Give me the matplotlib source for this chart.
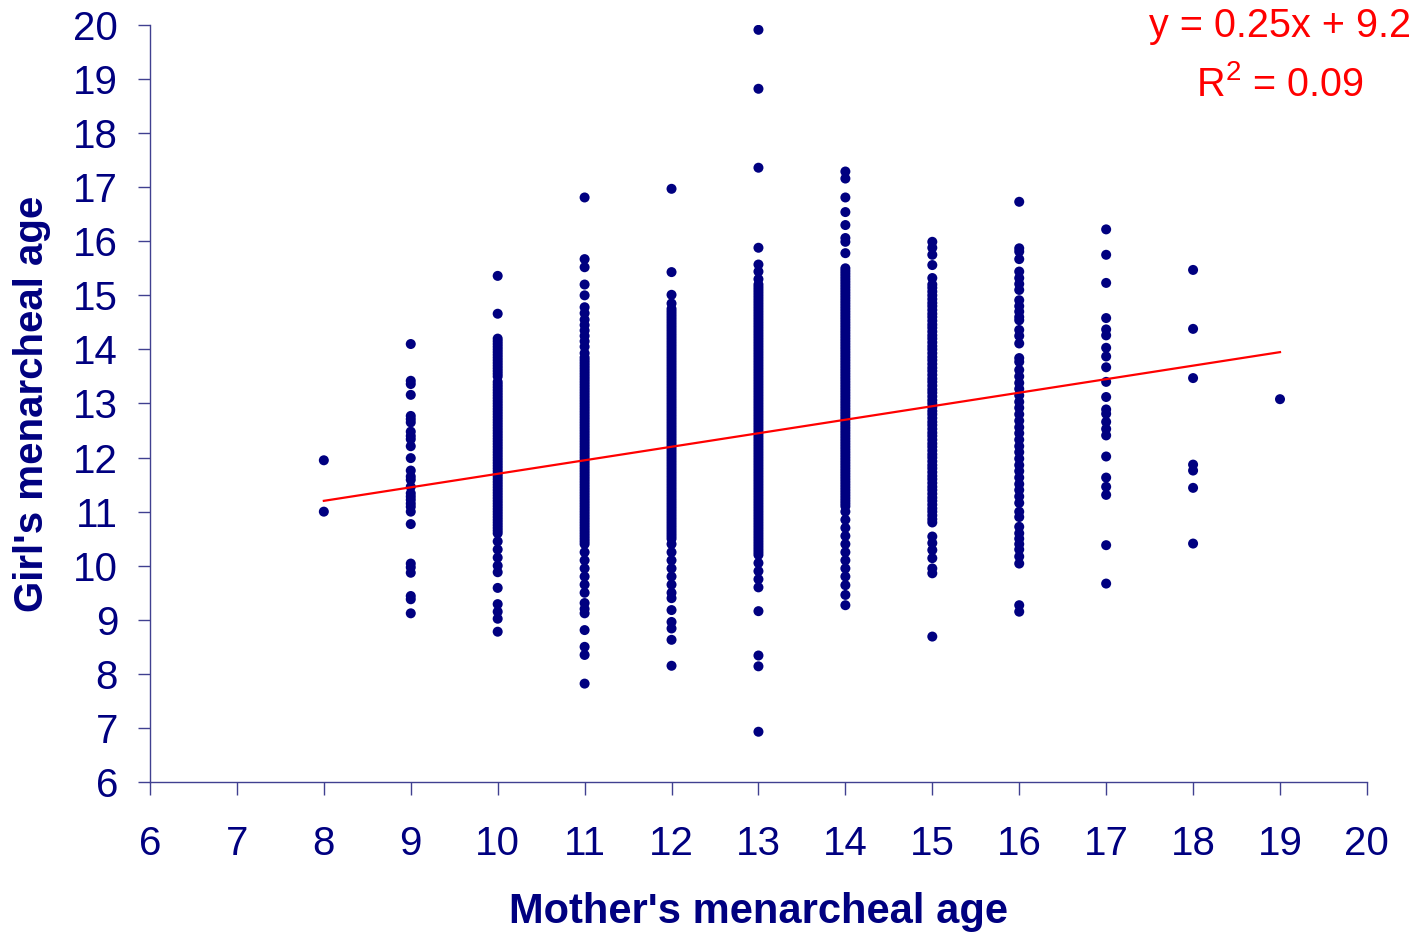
import matplotlib
matplotlib.use("Agg")
import matplotlib.pyplot as plt
import numpy as np

plt.rcParams['font.family'] = ['Liberation Sans', 'DejaVu Sans']
plt.rcParams['mathtext.fontset'] = 'custom'
plt.rcParams['mathtext.rm'] = 'Liberation Sans'

NAVY = '#000080'
AXIS = '#404090'

# girls' menarcheal age, grouped by the mother's age (years)
mother_ages = [8, 9, 10, 11, 12, 13, 14, 15, 16, 17, 18, 19]

girls_8 = [11.95, 11.0]
girls_9 = [14.10, 13.42, 13.36, 13.16, 12.77, 12.71, 12.65, 12.48, 12.40, 12.34,
           12.21, 11.99, 11.76, 11.65, 11.59, 11.46, 11.34, 11.28, 11.22, 11.15,
           11.09, 11.00, 10.77, 10.04, 9.97, 9.87, 9.44, 9.38, 9.12]
girls_10 = [15.36, 14.66,
            14.20, 14.15, 14.10, 14.05, 14.00, 13.95, 13.90, 13.85, 13.80,
            13.75, 13.70, 13.65, 13.60, 13.55, 13.50,
            13.40, 13.35, 13.30, 13.25, 13.20, 13.15, 13.10, 13.05, 13.00,
            12.95, 12.90, 12.85, 12.80, 12.75, 12.70, 12.65, 12.60, 12.55,
            12.50, 12.45, 12.40, 12.35, 12.30, 12.25, 12.20, 12.15, 12.10,
            12.05, 12.00, 11.95, 11.90, 11.85, 11.80, 11.75, 11.70, 11.65,
            11.60, 11.55, 11.50, 11.45, 11.40, 11.35, 11.30, 11.25, 11.20,
            11.15, 11.10, 11.05, 11.00, 10.95, 10.90, 10.85, 10.80, 10.75,
            10.70, 10.65, 10.60,
            10.45, 10.30, 10.15, 10.00, 9.88, 9.59, 9.29, 9.15, 9.02, 8.78]
girls_11 = [16.81, 15.67, 15.52, 15.20, 15.00, 14.78,
            14.67, 14.55, 14.45, 14.35, 14.25, 14.15, 14.05, 13.93,
            13.85, 13.80, 13.75, 13.70, 13.65, 13.60, 13.55, 13.50, 13.45,
            13.40, 13.35, 13.30, 13.25, 13.20, 13.15, 13.10, 13.05, 13.00,
            12.95, 12.90, 12.85, 12.80, 12.75, 12.70, 12.65, 12.60, 12.55,
            12.50, 12.45, 12.40, 12.35, 12.30, 12.25, 12.20, 12.15, 12.10,
            12.05, 12.00, 11.95, 11.90, 11.85, 11.80, 11.75, 11.70, 11.65,
            11.60, 11.55, 11.50, 11.45, 11.40, 11.35, 11.30, 11.25, 11.20,
            11.15, 11.10, 11.05, 11.00, 10.95, 10.90, 10.85, 10.80, 10.75,
            10.70, 10.65, 10.60, 10.55, 10.50, 10.45, 10.40,
            10.25, 10.10, 9.95, 9.80, 9.65, 9.50,
            9.31, 9.20, 9.12, 8.81, 8.50, 8.35, 7.82]
girls_12 = [16.97, 15.43, 15.01, 14.85,
            14.75, 14.70, 14.65, 14.60, 14.55, 14.50, 14.45, 14.40, 14.35,
            14.30, 14.25, 14.20, 14.15, 14.10, 14.05, 14.00, 13.95, 13.90,
            13.85, 13.80, 13.75, 13.70, 13.65, 13.60, 13.55, 13.50, 13.45,
            13.40, 13.35, 13.30, 13.25, 13.20, 13.15, 13.10, 13.05, 13.00,
            12.95, 12.90, 12.85, 12.80, 12.75, 12.70, 12.65, 12.60, 12.55,
            12.50, 12.45, 12.40, 12.35, 12.30, 12.25, 12.20, 12.15, 12.10,
            12.05, 12.00, 11.95, 11.90, 11.85, 11.80, 11.75, 11.70, 11.65,
            11.60, 11.55, 11.50, 11.45, 11.40, 11.35, 11.30, 11.25, 11.20,
            11.15, 11.10, 11.05, 11.00, 10.95, 10.90, 10.85, 10.80, 10.75,
            10.70, 10.65, 10.60, 10.55, 10.50,
            10.40, 10.25, 10.10, 9.95, 9.80, 9.65, 9.50, 9.40,
            9.18, 8.96, 8.84, 8.63, 8.15]
girls_13 = [19.91, 18.82, 17.36, 15.88, 15.57, 15.44, 15.30,
            15.20, 15.15, 15.10, 15.05, 15.00, 14.95, 14.90, 14.85, 14.80,
            14.75, 14.70, 14.65, 14.60, 14.55, 14.50, 14.45, 14.40, 14.35,
            14.30, 14.25, 14.20, 14.15, 14.10, 14.05, 14.00, 13.95, 13.90,
            13.85, 13.80, 13.75, 13.70, 13.65, 13.60, 13.55, 13.50, 13.45,
            13.40, 13.35, 13.30, 13.25, 13.20, 13.15, 13.10, 13.05, 13.00,
            12.95, 12.90, 12.85, 12.80, 12.75, 12.70, 12.65, 12.60, 12.55,
            12.50, 12.45, 12.40, 12.35, 12.30, 12.25, 12.20, 12.15, 12.10,
            12.05, 12.00, 11.95, 11.90, 11.85, 11.80, 11.75, 11.70, 11.65,
            11.60, 11.55, 11.50, 11.45, 11.40, 11.35, 11.30, 11.25, 11.20,
            11.15, 11.10, 11.05, 11.00, 10.95, 10.90, 10.85, 10.80, 10.75,
            10.70, 10.65, 10.60, 10.55, 10.50, 10.45, 10.40, 10.35, 10.30,
            10.25, 10.20,
            10.05, 9.90, 9.75, 9.60, 9.16, 8.34, 8.14, 6.93]
girls_14 = [17.29, 17.16, 16.81, 16.54, 16.30, 16.06, 15.99, 15.78,
            15.50, 15.45, 15.40, 15.35, 15.30, 15.25, 15.20, 15.15, 15.10,
            15.05, 15.00, 14.95, 14.90, 14.85, 14.80, 14.75, 14.70, 14.65,
            14.60, 14.55, 14.50, 14.45, 14.40, 14.35, 14.30, 14.25, 14.20,
            14.15, 14.10, 14.05, 14.00, 13.95, 13.90, 13.85, 13.80, 13.75,
            13.70, 13.65, 13.60, 13.55, 13.50, 13.45, 13.40, 13.35, 13.30,
            13.25, 13.20, 13.15, 13.10, 13.05, 13.00, 12.95, 12.90, 12.85,
            12.80, 12.75, 12.70, 12.65, 12.60, 12.55, 12.50, 12.45, 12.40,
            12.35, 12.30, 12.25, 12.20, 12.15, 12.10, 12.05, 12.00, 11.95,
            11.90, 11.85, 11.80, 11.75, 11.70, 11.65, 11.60, 11.55, 11.50,
            11.45, 11.40, 11.35, 11.30, 11.25, 11.20, 11.15, 11.10,
            11.00, 10.85, 10.70, 10.55, 10.40, 10.25, 10.10, 9.95, 9.80,
            9.64, 9.46, 9.27]
girls_15 = [15.99, 15.88, 15.75, 15.56, 15.32,
            15.20, 15.14, 15.07, 15.00, 14.93, 14.86, 14.80, 14.73, 14.66,
            14.60, 14.53, 14.46, 14.40, 14.33, 14.26, 14.20, 14.13, 14.06,
            14.00, 13.93, 13.86, 13.80, 13.73, 13.66, 13.60, 13.53, 13.46,
            13.40, 13.33, 13.26, 13.20, 13.13, 13.06, 13.00, 12.93, 12.86,
            12.80, 12.73, 12.66, 12.60, 12.53, 12.46, 12.40, 12.33, 12.26,
            12.20, 12.13, 12.06, 12.00, 11.93, 11.86, 11.80, 11.73, 11.66,
            11.60, 11.53, 11.46, 11.40, 11.33, 11.26, 11.20, 11.13, 11.06,
            11.00, 10.93, 10.86, 10.80,
            10.54, 10.42, 10.29, 10.14, 9.95, 9.86, 8.69]
girls_16 = [16.73, 15.87, 15.81, 15.67, 15.44, 15.32, 15.21, 15.10, 14.91,
            14.80, 14.70, 14.60, 14.54, 14.36, 14.25, 14.11, 13.84, 13.77,
            13.62, 13.50, 13.38, 13.27, 13.15, 13.03, 12.92, 12.80, 12.68,
            12.56, 12.45, 12.33, 12.21, 12.10, 11.98, 11.86, 11.75, 11.63,
            11.51, 11.40, 11.28, 11.16, 11.00, 10.90, 10.72, 10.60, 10.50,
            10.40, 10.30, 10.17, 10.04, 9.27, 9.15]
girls_17 = [16.22, 15.75, 15.23, 14.58, 14.37, 14.26, 14.03, 13.87, 13.67,
            13.40, 13.12, 12.89, 12.81, 12.66, 12.53, 12.41, 12.02, 11.63,
            11.46, 11.31, 10.38, 9.67]
girls_18 = [15.47, 14.38, 13.47, 11.87, 11.76, 11.44, 10.41]
girls_19 = [13.08]

girls_by_mother = [girls_8, girls_9, girls_10, girls_11, girls_12, girls_13,
                   girls_14, girls_15, girls_16, girls_17, girls_18, girls_19]

# linear trend
slope = 0.25
intercept = 9.2

fig = plt.figure(figsize=(14.19, 9.35), dpi=100)
ax = fig.add_axes([0.1057, 0.1636, 0.8576, 0.8097])

for m, g in zip(mother_ages, girls_by_mother):
    ax.scatter([m] * len(g), g, s=52, color=NAVY, edgecolors='none', zorder=2)

xs = np.array([mother_ages[0], mother_ages[-1]])
ax.plot(xs, slope * xs + intercept, color='#ff0000', lw=1.6, zorder=3)

ax.set_xlim(6, 20)
ax.set_ylim(6, 20)
ax.set_xticks(range(6, 21))
ax.set_yticks(range(6, 21))
for side in ('top', 'right'):
    ax.spines[side].set_visible(False)
for side in ('left', 'bottom'):
    ax.spines[side].set_color(AXIS)
    ax.spines[side].set_linewidth(1.0)
ax.tick_params(axis='both', direction='out', length=9, width=1.0,
               color=AXIS, labelcolor=NAVY, labelsize=29)
ax.tick_params(axis='y', pad=14)
ax.tick_params(axis='x', pad=22)

ax.set_xlabel("Mother's menarcheal age", fontsize=30, fontweight='bold',
              color=NAVY, labelpad=21)
ax.set_ylabel("Girl's menarcheal age", fontsize=29, fontweight='bold',
              color=NAVY, labelpad=16)

fig.text(0.902, 0.9722, 'y = 0.25x + 9.2', color='#ff0000', fontsize=28.5,
         ha='center', va='center')
fig.text(0.902, 0.9101, r'R$^2$ = 0.09', color='#ff0000', fontsize=28.5,
         ha='center', va='center')

fig.savefig('out.png', dpi=100)
